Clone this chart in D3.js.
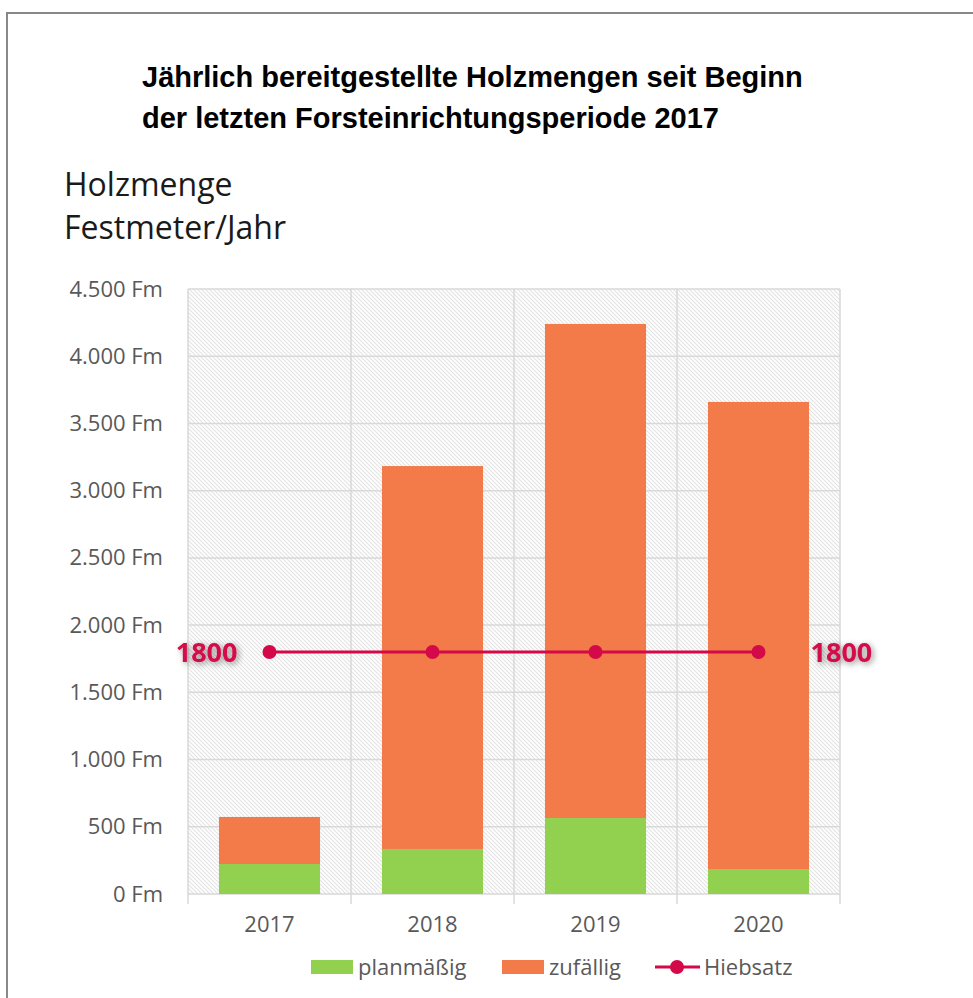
<!DOCTYPE html>
<html>
<head>
<meta charset="utf-8">
<script src="https://cdn.jsdelivr.net/npm/d3@7"></script>
<style>
  body { margin: 0; background: #fff; }
  .tick text { font-family: "Open Sans", Lato, sans-serif; }
</style>
</head>
<body>
<div id="chart"></div>
<script>
var years = ['2017', '2018', '2019', '2020'];
var planmaessig = [223, 335, 565, 186];
var zufaellig = [350, 2848, 3675, 3474];
var hiebsatz = [1800, 1800, 1800, 1800];
var yTicks = [0, 500, 1000, 1500, 2000, 2500, 3000, 3500, 4000, 4500];
var titleLines = ['Jährlich bereitgestellte Holzmengen seit Beginn', 'der letzten Forsteinrichtungsperiode 2017'];
var axisTitle = ['Holzmenge', 'Festmeter/Jahr'];

var width = 973;
var height = 998;
var plot = { left: 188, right: 840, top: 289, bottom: 894 };
var green = '#92d050';
var orange = '#f27b49';
var red = '#d4094a';
var grey = '#595959';
var font = '"Open Sans", Lato, sans-serif';

var svg = d3.select('#chart').append('svg')
  .attr('width', width)
  .attr('height', height)
  .style('display', 'block');

var defs = svg.append('defs');
var pattern = defs.append('pattern')
  .attr('id', 'hatch')
  .attr('patternUnits', 'userSpaceOnUse')
  .attr('width', 4)
  .attr('height', 4);
pattern.append('rect').attr('width', 4).attr('height', 4).attr('fill', '#fff');
pattern.append('path')
  .attr('d', 'M-1,-1 L5,5 M-1,3 L1,5 M3,-1 L5,1')
  .attr('stroke', '#e3e3e3')
  .attr('stroke-width', 1.1);

var glow = defs.append('filter')
  .attr('id', 'glow')
  .attr('x', '-30%').attr('y', '-50%')
  .attr('width', '160%').attr('height', '200%');
glow.append('feGaussianBlur').attr('in', 'SourceAlpha').attr('stdDeviation', 3).attr('result', 'b');
glow.append('feOffset').attr('in', 'b').attr('dx', 2).attr('dy', 2).attr('result', 'o');
glow.append('feComponentTransfer').attr('in', 'o').attr('result', 's')
  .append('feFuncA').attr('type', 'linear').attr('slope', 0.45);
var merge = glow.append('feMerge');
merge.append('feMergeNode').attr('in', 's');
merge.append('feMergeNode').attr('in', 'SourceGraphic');

// frame
svg.append('rect')
  .attr('x', 7).attr('y', 13)
  .attr('width', width).attr('height', height)
  .attr('fill', 'none')
  .attr('stroke', '#888')
  .attr('stroke-width', 2);

// title
svg.append('g').selectAll('text')
  .data(titleLines)
  .join('text')
  .attr('x', 142)
  .attr('y', function (d, i) { return 87 + i * 41; })
  .style('font-family', '"Liberation Sans", Arial, sans-serif')
  .style('font-weight', 'bold')
  .style('font-size', '29px')
  .attr('fill', '#000')
  .text(function (d) { return d; });

svg.append('g').selectAll('text')
  .data(axisTitle)
  .join('text')
  .attr('x', 64)
  .attr('y', function (d, i) { return 196 + i * 43; })
  .style('font-family', font)
  .style('font-size', '32px')
  .attr('fill', '#1a1a1a')
  .text(function (d) { return d; });

var x = d3.scaleBand()
  .domain(years)
  .range([plot.left, plot.right])
  .paddingInner(0.38)
  .paddingOuter(0.19);

var xEdges = d3.scaleBand().domain(years).range([plot.left, plot.right]);

var y = d3.scaleLinear()
  .domain([0, 4500])
  .range([plot.bottom, plot.top]);

var fmt = function (v) {
  return d3.format(',')(v).replace(/,/g, '.') + ' Fm';
};

// hatched plot background
svg.append('rect')
  .attr('x', plot.left).attr('y', plot.top)
  .attr('width', plot.right - plot.left)
  .attr('height', plot.bottom - plot.top)
  .attr('fill', 'url(#hatch)');

// horizontal gridlines
svg.append('g').selectAll('line')
  .data(yTicks)
  .join('line')
  .attr('x1', plot.left).attr('x2', plot.right)
  .attr('y1', function (d) { return y(d); })
  .attr('y2', function (d) { return y(d); })
  .attr('stroke', '#d9d9d9')
  .attr('stroke-width', 1.5);

// vertical gridlines at category edges
var edges = years.map(function (d) { return xEdges(d); }).concat([plot.right]);
svg.append('g').selectAll('line')
  .data(edges)
  .join('line')
  .attr('x1', function (d) { return d; })
  .attr('x2', function (d) { return d; })
  .attr('y1', plot.top)
  .attr('y2', plot.bottom + 10)
  .attr('stroke', '#d9d9d9')
  .attr('stroke-width', 1.5);

// y axis labels
var yAxis = svg.append('g')
  .attr('transform', 'translate(' + (plot.left - 25) + ',0)')
  .call(d3.axisLeft(y).tickValues(yTicks).tickFormat(fmt).tickSize(0).tickPadding(0));
yAxis.select('.domain').remove();
yAxis.selectAll('text')
  .attr('fill', grey)
  .style('font-size', '22px');

// x axis labels
var xAxis = svg.append('g')
  .attr('transform', 'translate(0,' + plot.bottom + ')')
  .call(d3.axisBottom(xEdges).tickSize(0).tickPadding(22));
xAxis.select('.domain').remove();
xAxis.selectAll('text')
  .attr('fill', grey)
  .style('font-size', '22px');

// stacked bars
var rows = years.map(function (yr, i) {
  return { year: yr, planmaessig: planmaessig[i], zufaellig: zufaellig[i] };
});
var stack = d3.stack().keys(['planmaessig', 'zufaellig'])(rows);
var colors = { planmaessig: green, zufaellig: orange };

svg.append('g').selectAll('g')
  .data(stack)
  .join('g')
  .attr('fill', function (s) { return colors[s.key]; })
  .selectAll('rect')
  .data(function (s) { return s; })
  .join('rect')
  .attr('x', function (d) { return x(d.data.year); })
  .attr('width', x.bandwidth())
  .attr('y', function (d) { return y(d[1]); })
  .attr('height', function (d) { return y(d[0]) - y(d[1]); });

// Hiebsatz line
var cx = function (d, i) { return xEdges(years[i]) + xEdges.bandwidth() / 2; };
svg.append('path')
  .datum(hiebsatz)
  .attr('fill', 'none')
  .attr('stroke', red)
  .attr('stroke-width', 3.2)
  .attr('d', d3.line().x(cx).y(function (d) { return y(d); }));

svg.append('g').selectAll('circle')
  .data(hiebsatz)
  .join('circle')
  .attr('cx', cx)
  .attr('cy', function (d) { return y(d); })
  .attr('r', 7)
  .attr('fill', red);

// end labels
var ends = [
  { v: hiebsatz[0], x: cx(hiebsatz[0], 0) - 32, anchor: 'end' },
  { v: hiebsatz[hiebsatz.length - 1], x: cx(hiebsatz[3], 3) + 52, anchor: 'start' }
];
svg.append('g').selectAll('text')
  .data(ends)
  .join('text')
  .attr('x', function (d) { return d.x; })
  .attr('y', function (d) { return y(d.v) + 10; })
  .attr('text-anchor', function (d) { return d.anchor; })
  .attr('filter', 'url(#glow)')
  .style('font-family', font)
  .style('font-weight', 'bold')
  .style('font-size', '27px')
  .attr('fill', red)
  .text(function (d) { return d.v; });

// legend
var legend = svg.append('g').attr('transform', 'translate(0,967)');
var items = [
  { label: 'planmäßig', type: 'rect', color: green, x: 311 },
  { label: 'zufällig', type: 'rect', color: orange, x: 502 },
  { label: 'Hiebsatz', type: 'line', color: red, x: 655 }
];
items.forEach(function (it) {
  var g = legend.append('g').attr('transform', 'translate(' + it.x + ',0)');
  if (it.type === 'rect') {
    g.append('rect').attr('x', 0).attr('y', -7).attr('width', 42).attr('height', 14).attr('fill', it.color);
  } else {
    g.append('line').attr('x1', 0).attr('x2', 45).attr('y1', 0).attr('y2', 0)
      .attr('stroke', it.color).attr('stroke-width', 3);
    g.append('circle').attr('cx', 22).attr('cy', 0).attr('r', 7).attr('fill', it.color);
  }
  g.append('text')
    .attr('x', it.type === 'rect' ? 47 : 49)
    .attr('y', 8)
    .style('font-family', font)
    .style('font-size', '22px')
    .attr('fill', grey)
    .text(it.label);
});
</script>
</body>
</html>
